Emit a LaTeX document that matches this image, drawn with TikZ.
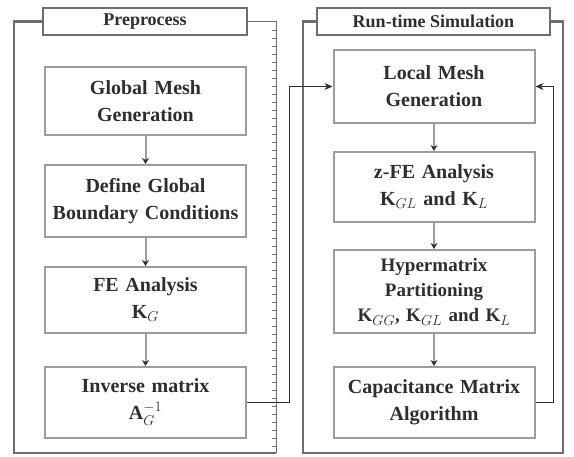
\documentclass[tikz,border=0pt]{standalone}
\usepackage{amsmath,amssymb}
\usepackage{fontspec}
\setmainfont{Liberation Serif}
\usetikzlibrary{arrows.meta, positioning, calc}
\definecolor{frame}{HTML}{6E6E6E}
\definecolor{edge}{HTML}{9C9C9C}
\definecolor{ink}{HTML}{2E2E2E}
\tikzset{
  stage/.style={rectangle, draw=edge, line width=2pt, fill=white,
                text width=198pt, align=center, minimum width=201pt,
                inner sep=1pt, text=ink,
                font=\fontsize{20}{27}\selectfont\bfseries},
  phase/.style={rectangle, draw=frame, line width=2pt, fill=white,
                minimum height=27pt, inner sep=2pt, text=ink,
                font=\fontsize{18}{20}\selectfont\bfseries},
  arrow/.style={-{Stealth[length=6pt,width=7pt,color=ink]}, line width=2pt, draw=edge},
  link/.style={-{Stealth[length=8pt,width=7pt]}, line width=1pt, draw=ink},
  rim/.style={draw=frame, line width=2.5pt},
}

\begin{document}
\begin{tikzpicture}[x=1pt, y=-1pt]
  \useasboundingbox (0,0) rectangle (574,456);

  %% Preprocess column
  \node[phase, minimum width=204pt] (pre) at (145,21.5) {Preprocess};
  \node[stage, minimum height=68pt] (p1) at (145.5,101) {Global Mesh\\Generation};
  \node[stage, minimum height=72pt] (p2) at (145.5,201) {Define Global\\Boundary Conditions};
  \node[stage, minimum height=66pt] (p3) at (145.5,300) {FE Analysis\\$\mathbf{K}_{G}$};
  \node[stage, minimum height=71pt] (p4) at (145.5,402.5) {Inverse matrix\\$\mathbf{A}_{G}^{-1}$};

  \draw[rim] (pre.west) -| (14,453) -- (276,453);
  \draw[frame, line width=0.8pt] (pre.east) -- (276,21.5) -- (276,453);
  \foreach \y in {30,38,...,446}
    \draw[frame, line width=0.6pt] (272,\y) -- (276,\y);

  \draw[arrow] (p1) -- (p2);
  \draw[arrow] (p2) -- (p3);
  \draw[arrow] (p3) -- (p4);

  %% Run-time column
  \node[phase, minimum width=233pt] (run) at (433.5,21.5) {Run-time Simulation};
  \node[stage, minimum height=73pt] (r1) at (434,86.5) {Local Mesh\\Generation};
  \node[stage, minimum height=70pt] (r2) at (434,187) {z-FE Analysis\\$\mathbf{K}_{GL}$ and $\mathbf{K}_{L}$};
  \node[stage, minimum height=83pt, font=\fontsize{19}{25}\selectfont\bfseries] (r3) at (434,291.5)
    {Hypermatrix\\Partitioning\\$\mathbf{K}_{GG}$, $\mathbf{K}_{GL}$ and $\mathbf{K}_{L}$};
  \node[stage, minimum height=71pt] (r4) at (434,402.5) {Capacitance Matrix\\Algorithm};

  \draw[rim] (run.west) -| (303,453) -| (563,21.5) -- (run.east);

  \draw[arrow] (r1) -- (r2);
  \draw[arrow] (r2) -- (r3);
  \draw[arrow] (r3) -- (r4);

  %% Links into the local mesh
  \draw[link] (p4.east) -- ++(42pt,0) |- (r1.west);
  \draw[link] (r4.east) -- ++(18pt,0) |- (r1.east);
\end{tikzpicture}
\end{document}
